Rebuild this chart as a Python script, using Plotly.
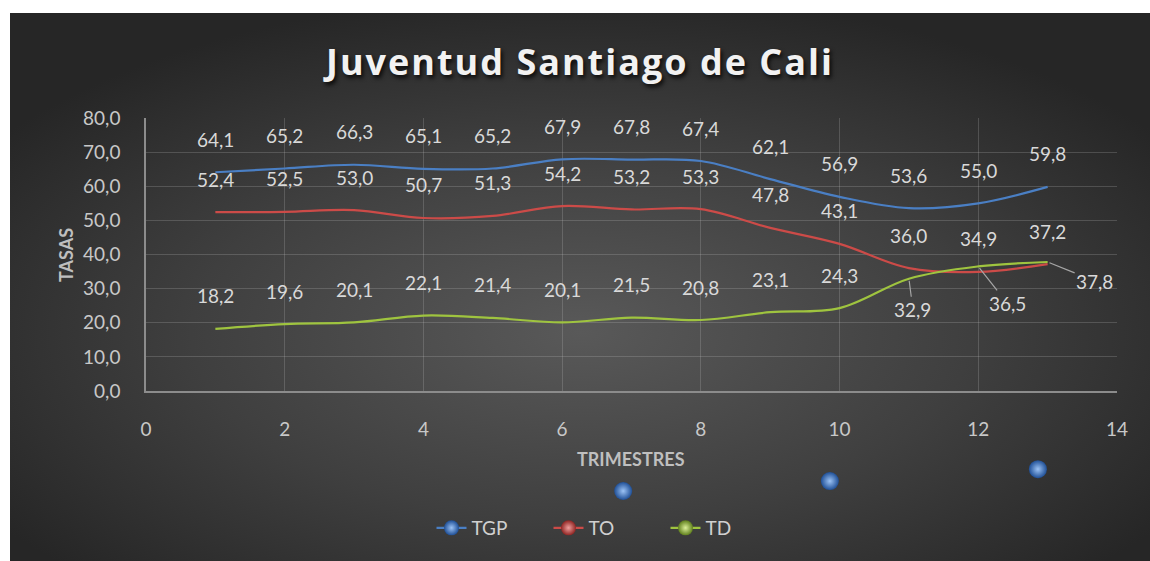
import base64
import plotly.graph_objects as go

# ---------------- data ----------------
trimestres = list(range(1, 14))
tgp = [64.1, 65.2, 66.3, 65.1, 65.2, 67.9, 67.8, 67.4, 62.1, 56.9, 53.6, 55.0, 59.8]
to_ = [52.4, 52.5, 53.0, 50.7, 51.3, 54.2, 53.2, 53.3, 47.8, 43.1, 36.0, 34.9, 37.2]
td = [18.2, 19.6, 20.1, 22.1, 21.4, 20.1, 21.5, 20.8, 23.1, 24.3, 32.9, 36.5, 37.8]
series_names = ["TGP", "TO", "TD"]
y_ticks = [0, 10, 20, 30, 40, 50, 60, 70, 80]
x_ticks = [0, 2, 4, 6, 8, 10, 12, 14]
# stray decorative spheres seen below the axis in the original
stray_x = [6.88, 9.86, 12.86]
stray_y = [-29.3, -26.4, -22.9]

colors = {"TGP": "#4a7fc4", "TO": "#cc4b48", "TD": "#9fc43f"}
marker_dark = {"TGP": "#1f4f96", "TO": "#8f2523", "TD": "#5f7f1c"}
marker_light = {"TGP": "#9cc3f5", "TO": "#f0a09e", "TD": "#dcf09a"}
FONT = "Lato"
LABEL_COLOR = "#d9d9d9"

W, H = 1150, 561
# reference pixel geometry (window coordinates)
PL, PR, PT, PB = 146, 1117, 118, 500     # full paper area
MAIN_BOTTOM = 391                         # y=0 of the main axis
L, R, T, B = PL, W - PR, PT, H - PB
pw, ph = PR - PL, PB - PT
split = (PB - MAIN_BOTTOM) / ph
px_per_unit = (MAIN_BOTTOM - PT) / 80.0


def px(xw):
    return (xw - PL) / pw


def py(yw):
    return (PB - yw) / ph


fig = go.Figure()

data = {"TGP": tgp, "TO": to_, "TD": td}
for name in series_names:
    fig.add_trace(go.Scatter(
        x=trimestres, y=data[name], mode="lines", name=name,
        line=dict(color=colors[name], width=2.2, shape="spline", smoothing=1),
        showlegend=False, hoverinfo="skip"))

# legend-only traces (sphere markers on line)
for name in series_names:
    fig.add_trace(go.Scatter(
        x=[None], y=[None], mode="lines+markers", name=name,
        line=dict(color=colors[name], width=2.2),
        marker=dict(size=15, color=marker_dark[name],
                    gradient=dict(type="radial", color=marker_light[name]),
                    line=dict(width=0))))

# stray spheres (on a hidden lower axis with the same scale)
fig.add_trace(go.Scatter(
    x=stray_x, y=stray_y, mode="markers", showlegend=False, cliponaxis=False,
    hoverinfo="skip", xaxis="x2", yaxis="y2",
    marker=dict(size=18, color=marker_dark["TGP"],
                gradient=dict(type="radial", color=marker_light["TGP"]),
                line=dict(width=0))))


def fmt(v):
    return f"{v:.1f}".replace(".", ",")


annotations = []
leader = {10: (4, 31), 11: (29, 37), 12: (47, 19)}
for name in series_names:
    for i, (x, y) in enumerate(zip(trimestres, data[name])):
        if name == "TD" and i in leader:
            ax, ay = leader[i]
            annotations.append(dict(
                x=x, y=y, xref="x", yref="y", text=fmt(y), showarrow=True,
                arrowhead=0, arrowwidth=1.2, arrowcolor="#a6a6a6",
                ax=ax, ay=ay, standoff=2,
                font=dict(family=FONT, size=19, color=LABEL_COLOR)))
        else:
            annotations.append(dict(
                x=x, y=y, xref="x", yref="y", text=fmt(y), showarrow=False,
                yshift=33, font=dict(family=FONT, size=19, color=LABEL_COLOR)))

# axis titles
annotations.append(dict(
    text="<b>TASAS</b>", xref="paper", yref="paper",
    x=px(66), y=py(255), showarrow=False, textangle=-90,
    font=dict(family=FONT, size=18, color="#bfbfbf"),
    xanchor="center", yanchor="middle"))
annotations.append(dict(
    text="<b>TRIMESTRES</b>", xref="paper", yref="paper",
    x=px(631), y=py(459), showarrow=False,
    font=dict(family=FONT, size=18, color="#bfbfbf"),
    xanchor="center", yanchor="middle"))

# background gradient image
svg = (
    '<svg xmlns="http://www.w3.org/2000/svg" width="1140" height="548" '
    'viewBox="0 0 1140 548" preserveAspectRatio="none">'
    '<defs><radialGradient id="g" cx="0.5" cy="0.58" r="0.62" fx="0.5" fy="0.58">'
    '<stop offset="0" stop-color="#595959"/>'
    '<stop offset="0.55" stop-color="#3f3f3f"/>'
    '<stop offset="1" stop-color="#262626"/>'
    '</radialGradient></defs>'
    '<rect width="1140" height="548" fill="url(#g)"/></svg>')
src = "data:image/svg+xml;base64," + base64.b64encode(svg.encode()).decode()
x0, y_top, x1, y_bot = 10, 13, 1152, 563
fig.add_layout_image(dict(
    source=src, xref="paper", yref="paper",
    x=px(x0), y=py(y_top),
    sizex=(x1 - x0) / pw, sizey=(y_bot - y_top) / ph,
    xanchor="left", yanchor="top", sizing="stretch", layer="below"))

# white outer frame (top and left strips)
shapes = [
    dict(type="rect", xref="paper", yref="paper", layer="below",
         x0=px(-5), x1=px(10), y0=py(570), y1=py(-5),
         fillcolor="white", line=dict(width=0)),
    dict(type="rect", xref="paper", yref="paper", layer="below",
         x0=px(-5), x1=px(1160), y0=py(13), y1=py(-5),
         fillcolor="white", line=dict(width=0)),
]

grid_color = "rgba(200,200,200,0.22)"
tick_font = dict(family=FONT, size=19, color="#c8c8c8")
title_text = ('<b><span style="letter-spacing:2px">'
              'Juventud Santiago de Cali</span></b>')
fig.update_layout(
    width=W, height=H,
    margin=dict(l=L, r=R, t=T, b=B, autoexpand=False),
    paper_bgcolor="#262626", plot_bgcolor="rgba(0,0,0,0)",
    separators=",.",
    shapes=shapes,
    title=dict(text=title_text, x=580 / W, y=1 - 62 / H,
               xanchor="center", yanchor="middle",
               font=dict(family="Open Sans", size=36, color="#f2f2f2",
                         shadow="2px 3px 4px rgba(0,0,0,0.8)")),
    xaxis=dict(range=[0, 14], tickvals=x_ticks, ticktext=[str(v) for v in x_ticks],
               anchor="y", domain=[0, 1],
               showgrid=True, gridcolor=grid_color, gridwidth=1,
               showline=True, linecolor="#8c8c8c", linewidth=2, zeroline=False,
               tickfont=tick_font,
               ticks="", ticklabelstandoff=20, automargin=False, fixedrange=True),
    yaxis=dict(range=[0, 80], tickvals=y_ticks, tickformat=".1f",
               domain=[split, 1], anchor="x",
               showgrid=True, gridcolor=grid_color, gridwidth=1,
               showline=True, linecolor="#8c8c8c", linewidth=1.5, zeroline=False,
               tickfont=tick_font,
               ticks="", ticklabelstandoff=20, automargin=False, fixedrange=True),
    xaxis2=dict(range=[0, 14], domain=[0, 1], anchor="y2", visible=False,
                fixedrange=True),
    yaxis2=dict(range=[-(PB - MAIN_BOTTOM) / px_per_unit, 0],
                domain=[0, split], anchor="x2", visible=False, fixedrange=True),
    legend=dict(orientation="h", x=px(607), y=py(528),
                xanchor="center", yanchor="middle", bgcolor="rgba(0,0,0,0)",
                font=dict(family=FONT, size=19, color="#d0d0d0"),
                entrywidth=72, entrywidthmode="pixels"),
    annotations=annotations,
    showlegend=True,
)

fig.write_html(
    "out.html",
    config={"displayModeBar": False},
    post_script="document.body.style.margin='0px';"
                "document.body.style.overflow='hidden';")
